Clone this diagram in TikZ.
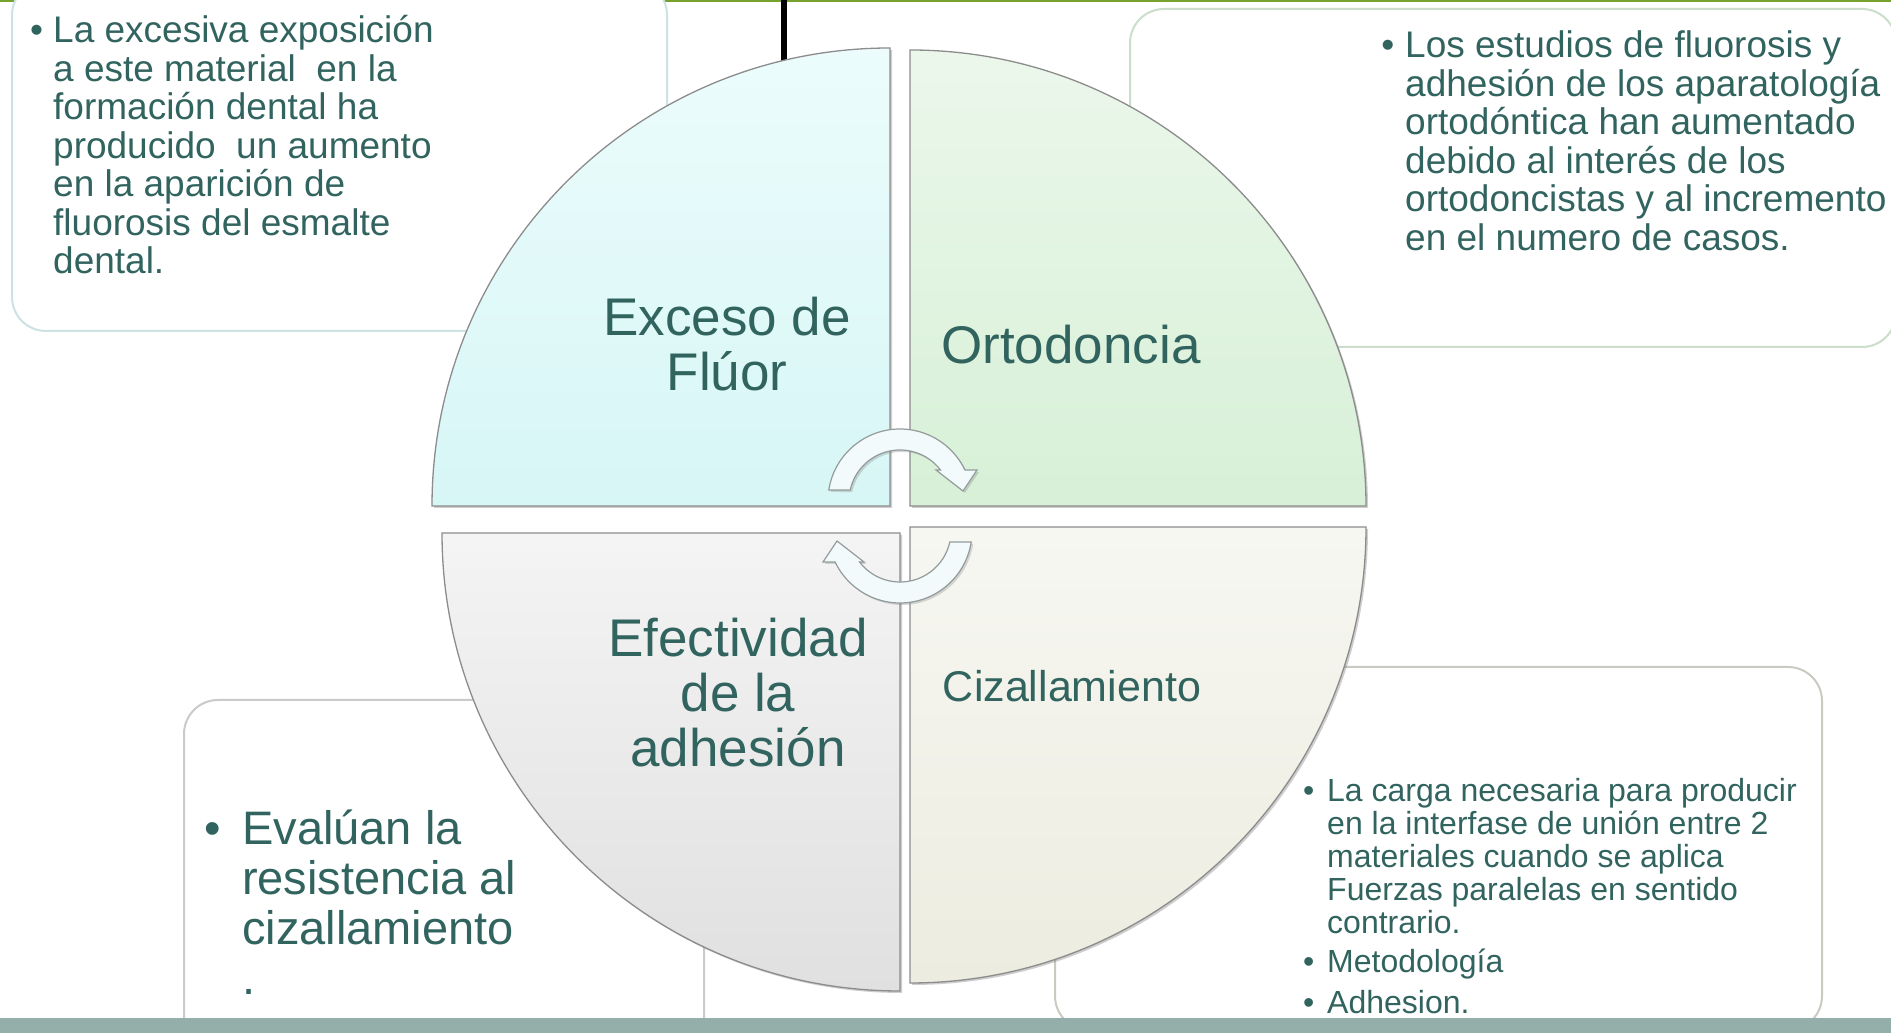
\documentclass[tikz,border=0pt]{standalone}
\usepackage{fontspec}
\setmainfont{Liberation Sans}
\usetikzlibrary{shadows}
\definecolor{txt}{RGB}{50,100,95}
\definecolor{quadline}{RGB}{140,140,140}
\definecolor{tlb}{RGB}{205,226,226}
\definecolor{trb}{RGB}{203,222,203}
\definecolor{blb}{RGB}{202,202,202}
\definecolor{brb}{RGB}{202,202,194}
\definecolor{arrfill}{RGB}{243,250,252}
\definecolor{arrline}{RGB}{147,155,155}
\definecolor{barcol}{RGB}{148,174,169}
\definecolor{topgreen}{RGB}{118,162,45}
\definecolor{tltop}{RGB}{236,252,252}
\definecolor{tlbot}{RGB}{215,246,246}
\definecolor{trtop}{RGB}{235,247,235}
\definecolor{trbot}{RGB}{215,240,215}
\definecolor{bltop}{RGB}{244,244,244}
\definecolor{blbot}{RGB}{224,224,224}
\definecolor{brtop}{RGB}{247,247,242}
\definecolor{brbot}{RGB}{236,236,224}
\newcommand\bulletmark[1]{\leavevmode\llap{•\hspace{#1}}}
\tikzset{
  quad/.style={draw=quadline, line width=1.3pt,
    drop shadow={shadow xshift=2pt, shadow yshift=-2pt, opacity=0.35, fill=black!55}},
  tbox/.style={fill=white, line width=2pt, rounded corners=34pt},
  lbl/.style={text=txt, inner sep=0pt, anchor=base},
  para/.style={text=txt, inner sep=0pt, anchor=base west},
  arr/.style={draw=arrline, line width=1.2pt, fill=arrfill,
    drop shadow={shadow xshift=2pt, shadow yshift=-2pt, opacity=0.3, fill=black!50}},
}
\begin{document}
\begin{tikzpicture}[x=1pt,y=1pt]
\clip (0,0) rectangle (1891,1033);
\fill[white] (0,0) rectangle (1891,1033);
\fill[topgreen] (0,1030.5) rectangle (1891,1033);
% text boxes
\draw[tbox, draw=tlb] (12,702) rectangle (667,1052);
\draw[tbox, draw=trb] (1130,686) rectangle (1896,1024);
\draw[tbox, draw=blb] (184,-30) rectangle (704,333);
\draw[tbox, draw=brb] (1055,3) rectangle (1822,366);
% bottom bar
\fill[barcol] (0,0) rectangle (1891,15);
% box texts
\node[para, font=\fontsize{37}{38.5}\selectfont] (t1) at (53,990)
 {\parbox[t]{600pt}{\raggedright\lineskiplimit=-100pt
 \bulletmark{10pt}La excesiva exposición\\a este material~ en la\\formación dental ha\\producido~ un aumento\\en la aparición de\\fluorosis del esmalte\\dental.}};
\node[para, font=\fontsize{37}{38.5}\selectfont] (t2) at (1405,975)
 {\parbox[t]{600pt}{\raggedright\lineskiplimit=-100pt
 \bulletmark{11pt}Los estudios de fluorosis y\\adhesión de los aparatología\\ortodóntica han aumentado\\debido al interés de los\\ortodoncistas y al incremento\\en el numero de casos.}};
\node[para, font=\fontsize{47}{50}\selectfont] (t3) at (242,188)
 {\parbox[t]{500pt}{\raggedright\lineskiplimit=-100pt
 \bulletmark{21pt}Evalúan la\\resistencia al\\cizallamiento\\.}};
\node[para, font=\fontsize{32}{33}\selectfont] (t4) at (1327,231)
 {\parbox[t]{600pt}{\raggedright\lineskiplimit=-100pt
 \bulletmark{13pt}La carga necesaria para producir\\en la interfase de unión entre 2\\materiales cuando se aplica\\Fuerzas paralelas en sentido\\contrario.\par\vspace{6pt}
 \bulletmark{13pt}Metodología\par\vspace{8pt}
 \bulletmark{13pt}Adhesion.}};
% black line
\draw[black, line width=6pt] (784,1034) -- (784,950);
% quadrants
\path[quad, top color=tltop, bottom color=tlbot] (890,527) -- (432,527) arc[start angle=180, end angle=90, radius=458] -- cycle;
\path[quad, top color=trtop, bottom color=trbot] (910,527) -- (910,983) arc[start angle=90, end angle=0, radius=456] -- cycle;
\path[quad, top color=bltop, bottom color=blbot] (900,500) -- (442,500) arc[start angle=180, end angle=270, radius=458] -- cycle;
\path[quad, top color=brtop, bottom color=brbot] (910,506) -- (1366,506) arc[start angle=0, end angle=-90, radius=456] -- cycle;
% quadrant labels
\node[lbl, font=\fontsize{53}{55}\selectfont] (exceso) at (727,697)
 {\parbox[t]{340pt}{\centering\lineskiplimit=-100pt Exceso de\\Flúor}};
\node[lbl, font=\fontsize{53}{55}\selectfont] (orto) at (1071,669) {Ortodoncia};
\node[lbl, font=\fontsize{53}{55}\selectfont] (efect) at (738,376)
 {\parbox[t]{340pt}{\centering\lineskiplimit=-100pt Efectividad\\de la\\adhesión}};
\node[lbl, font=\fontsize{43}{45}\selectfont] (ciza) at (1072,331) {Cizallamiento};
% cycle arrows
\begin{scope}[shift={(900,532)}]
\draw[arr] (-71.2,11) arc[start angle=171.2, end angle=25.5, radius=72] -- (77,31) -- (63,10) -- (36,31) -- (40.5,31) arc[start angle=37.4, end angle=167.6, radius=51] -- cycle;
\end{scope}
\begin{scope}[shift={(900,502)}]
\draw[arr] (71.2,-11) arc[start angle=-8.8, end angle=-154.5, radius=72] -- (-77,-31) -- (-63,-10) -- (-36,-31) -- (-40.5,-31) arc[start angle=-142.6, end angle=-12.4, radius=51] -- cycle;
\end{scope}
\end{tikzpicture}
\end{document}
